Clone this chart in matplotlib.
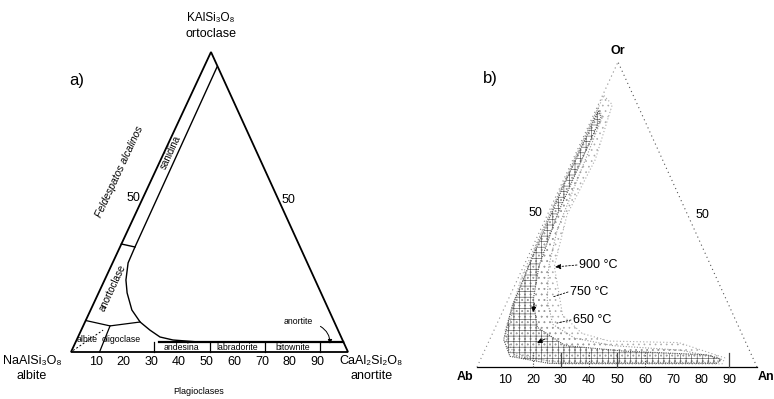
import matplotlib
matplotlib.use("Agg")
import matplotlib.pyplot as plt
from matplotlib.patches import Polygon, FancyArrowPatch

plt.rcParams['font.family'] = ['Liberation Sans', 'DejaVu Sans']
plt.rcParams['hatch.linewidth'] = 0.45

# ---------------- data: compositions as (An %, Or %) ----------------
ticks = [10, 20, 30, 40, 50, 60, 70, 80, 90]

# a) limit of the alkali feldspar / plagioclase series
solvus_an = [4.7, 5.4, 5.6, 7.7, 10.3, 14.9, 19.9, 24.8, 29.6, 34.8, 44.9, 96.7]
solvus_or = [95.0, 35.0, 29.7, 24.0, 19.7, 14.0, 10.0, 7.3, 5.0, 4.0, 3.3, 3.3]
# sanidina / anortoclase limit
san_an = [0.0, 5.4]
san_or = [36.0, 35.0]
# albite + oligoclase upper limit
abol_an = [0.0, 9.7, 19.9]
abol_or = [10.5, 8.7, 10.0]
# plagioclase subdivisions
plag_limits = [30, 50, 70, 90]
plag_names = ['andesina', 'labradorite', 'bitownite']
plag_mid = [40, 60, 80]
band_or = 3.3

# b) feldspar fields at three temperatures
t900_an = [0.5, 5, 8, 7, 11, 22, 32, 43, 68, 87, 87, 29, 9, 4, 1, 0.5]
t900_or = [89, 86, 68, 50, 33, 17, 11, 8.5, 8, 3, 1, 1, 5, 12, 30, 60]
t750_an = [0.5, 3.5, 5, 6, 9, 14, 20, 30, 45, 70, 85, 85, 30, 12, 6, 3, 1, 0.5]
t750_or = [85, 82, 60, 45, 33, 22, 14, 9.5, 7, 5.5, 3, 1.5, 1.5, 3.5, 9, 20, 40, 70]
t650_an = [1.0, 3.0, 3.5, 5.5, 9, 15, 28, 50, 80, 86, 85, 25, 10, 5, 2.5, 1.5, 1.0]
t650_or = [84, 82, 50, 33, 22, 13, 7, 5.2, 4, 2.5, 1.2, 1.2, 3.5, 9, 20, 40, 60]
temps = ['900 °C', '750 °C', '650 °C']
temp_points = [(11.4, 32.8), (15.6, 23.0), (21.3, 14.4)]

# ---------------- layout (pixels) ----------------
A_AB, A_AN, A_OR = (71, 352), (348, 352), (211, 52)
B_AB, B_AN, B_OR = (477, 367), (757, 367), (618, 62)


def tern(v, an, orr):
    ab_, an_, or_ = v
    an = [a / 100 for a in (an if hasattr(an, '__len__') else [an])]
    orr = [o / 100 for o in (orr if hasattr(orr, '__len__') else [orr])]
    xs = [ab_[0] + a * (an_[0] - ab_[0]) + o * (or_[0] - ab_[0]) for a, o in zip(an, orr)]
    ys = [ab_[1] + a * (an_[1] - ab_[1]) + o * (or_[1] - ab_[1]) for a, o in zip(an, orr)]
    return xs, ys


def pt(v, an, orr):
    xs, ys = tern(v, an, orr)
    return xs[0], ys[0]


A = (A_AB, A_AN, A_OR)
B = (B_AB, B_AN, B_OR)

fig = plt.figure(figsize=(7.74, 3.99), dpi=100)
ax = fig.add_axes([0, 0, 1, 1])
ax.set_xlim(0, 774)
ax.set_ylim(399, 0)
ax.axis('off')

# ======================= panel a =======================
ax.add_patch(Polygon([A_AB, A_AN, A_OR], closed=True, fill=False, ec='k', lw=1.3))
ax.plot(*tern(A, solvus_an, solvus_or), color='k', lw=1.0)
ax.plot(*tern(A, san_an, san_or), color='k', lw=1.0)
ax.plot(*tern(A, abol_an, abol_or), color='k', lw=0.9)
ax.plot(*tern(A, [9.7, 10.3], [8.7, 0]), color='k', lw=0.9)
ax.plot(*tern(A, [0.5, 7.9], [0.5, 7.3]), color='k', lw=0.7, ls=(0, (2, 2)))
ax.plot(*tern(A, [30, 96.7], [band_or, band_or]), color='k', lw=1.6)
y_top = pt(A, 0, band_or)[1]
for l in plag_limits:
    x, y = pt(A, l, 0)
    ax.plot([x, x], [y, y_top], color='k', lw=0.9)
for name, m in zip(plag_names, plag_mid):
    x, y = pt(A, m, 0)
    ax.text(x, (y + y_top) / 2, name, fontsize=6.3, ha='center', va='center')
ax.text(*pt(A, 3.8, 4.2), 'albite', fontsize=6.3, ha='center', va='center')
ax.text(*pt(A, 16, 4.2), 'oligoclase', fontsize=6.3, ha='center', va='center')
ax.text(113, 288, 'anortoclase', fontsize=7, rotation=65, ha='center', va='center')
ax.text(171, 152, 'sanidina', fontsize=7, rotation=65, ha='center', va='center')
ax.text(120, 172, 'Feldespatos alcalinos', fontsize=7.5, style='italic',
        rotation=65, ha='center', va='center')
ax.text(298, 321, 'anortite', fontsize=6.3, ha='center', va='center')
ax.add_patch(FancyArrowPatch((318, 325), pt(A, 92.5, 1.8), connectionstyle='arc3,rad=-0.35',
                             arrowstyle='-|>', mutation_scale=6, lw=0.7, color='k'))
for t in ticks:
    x, y = pt(A, t, 0)
    ax.text(x - 3, 362, str(t), fontsize=9, ha='center', va='center')
ax.text(133, 198, '50', fontsize=9, ha='center', va='center')
ax.text(288, 200, '50', fontsize=9, ha='center', va='center')
ax.text(211, 18, 'KAlSi₃O₈', fontsize=8.5, ha='center', va='center')
ax.text(211, 34, 'ortoclase', fontsize=9, ha='center', va='center')
ax.text(32, 361, 'NaAlSi₃O₈', fontsize=9, ha='center', va='center')
ax.text(32, 376, 'albite', fontsize=9, ha='center', va='center')
ax.text(371, 361, 'CaAl₂Si₂O₈', fontsize=9, ha='center', va='center')
ax.text(372, 376, 'anortite', fontsize=9, ha='center', va='center')
ax.text(199, 392, 'Plagioclases', fontsize=6.5, ha='center', va='center')
ax.text(77, 80, 'a)', fontsize=12, ha='center', va='center')

# ======================= panel b =======================
ax.plot([B_AB[0], B_AN[0]], [B_AB[1], B_AN[1]], color='k', lw=0.9)
ax.plot([B_AB[0], B_OR[0]], [B_AB[1], B_OR[1]], color='#888', lw=0.8, ls=(0, (1, 3)))
ax.plot([B_AN[0], B_OR[0]], [B_AN[1], B_OR[1]], color='#555', lw=0.8, ls=(0, (1, 3)))

fields = [(t900_an, t900_or, '#aaa', '...', (0, (1, 2))),
          (t750_an, t750_or, '#999', '...', (0, (1, 1.5))),
          (t650_an, t650_or, '#555', '+++', (0, (1, 1)))]
for an_, or_, ec, hatch, ls in fields:
    xs, ys = tern(B, an_, or_)
    ax.add_patch(Polygon(list(zip(xs, ys)), closed=True, fc='none', ec=ec, hatch=hatch,
                         lw=0.8, ls=ls))

for t in [30, 50, 90]:
    x, y = pt(B, t, 0)
    ax.plot([x, x], [y, y - 14], color='#444', lw=0.9)
for t in [20, 40, 60]:
    x, y = pt(B, t, 0)
    ax.plot([x, x], [y, y - 15], color='#444', lw=0.8, ls=(0, (1, 1.5)))

label_pos = [(598, 265), (589, 292), (592, 320)]
for txt, (an_, or_), (tx, ty), head in zip(temps, temp_points, label_pos, [True, False, False]):
    ax.text(tx, ty, txt, fontsize=9, ha='center', va='center')
    ax.annotate('', xy=pt(B, an_, or_), xytext=(tx - 21, ty),
                arrowprops=dict(arrowstyle='-|>' if head else '-', color='k', lw=0.6,
                                ls=(0, (2, 2)), mutation_scale=8, shrinkA=0, shrinkB=0))
for an_, or_, dx, dy in [(11, 18, 1, -9), (17.5, 7.9, 8, -4)]:
    x, y = pt(B, an_, or_)
    ax.annotate('', xy=(x, y), xytext=(x + dx, y + dy),
                arrowprops=dict(arrowstyle='-|>', color='k', lw=0.7, mutation_scale=7,
                                shrinkA=0, shrinkB=0))

for t in ticks:
    x, y = pt(B, t, 0)
    ax.text(x, 380, str(t), fontsize=9, ha='center', va='center')
ax.text(535, 213, '50', fontsize=9, ha='center', va='center')
ax.text(702, 215, '50', fontsize=9, ha='center', va='center')
ax.text(465, 377, 'Ab', fontsize=9, fontweight='bold', ha='center', va='center')
ax.text(766, 377, 'An', fontsize=9, fontweight='bold', ha='center', va='center')
ax.text(618, 51, 'Or', fontsize=9, fontweight='bold', ha='center', va='center')
ax.text(490, 78, 'b)', fontsize=12, ha='center', va='center')

fig.savefig('out.png', dpi=100)
